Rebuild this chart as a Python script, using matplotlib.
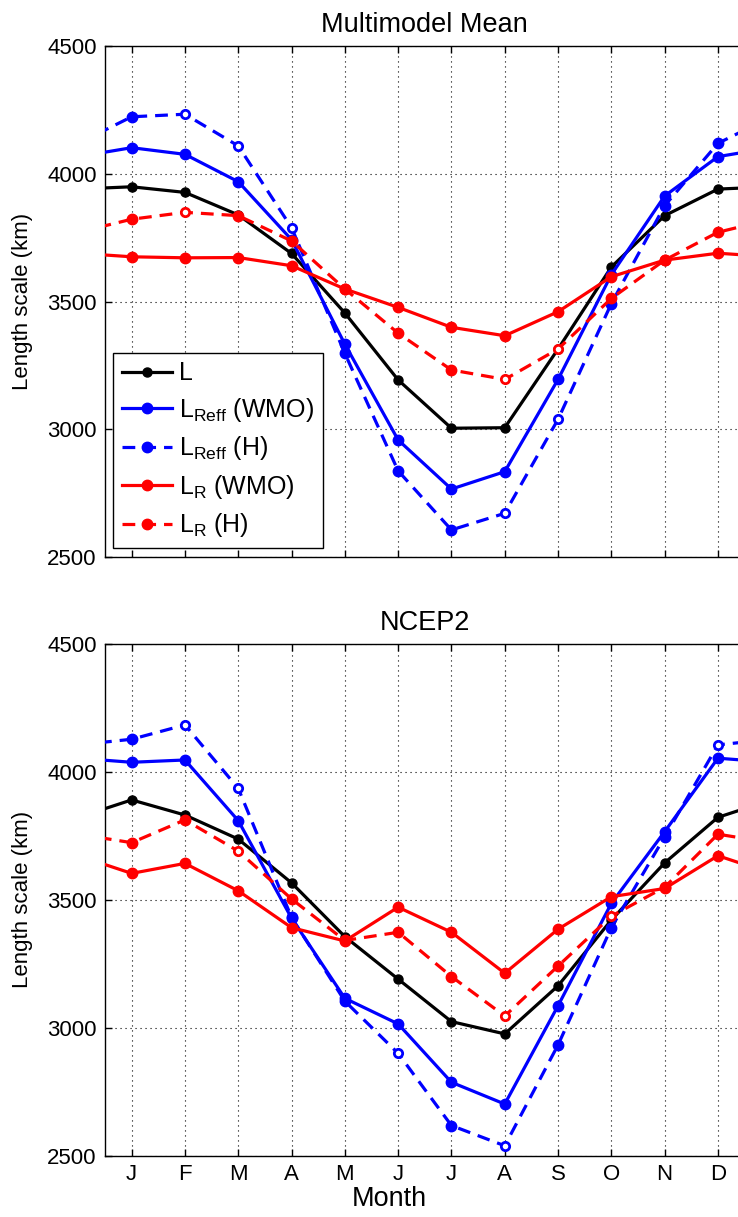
import matplotlib
matplotlib.use("Agg")
import matplotlib.pyplot as plt
from matplotlib.lines import Line2D
import numpy as np

plt.rcParams['font.family'] = ['Liberation Sans', 'DejaVu Sans']
plt.rcParams['mathtext.fontset'] = 'custom'
plt.rcParams['mathtext.rm'] = 'Liberation Sans'
plt.rcParams['mathtext.it'] = 'Liberation Sans'

months = ['J', 'F', 'M', 'A', 'M', 'J', 'J', 'A', 'S', 'O', 'N', 'D']
month_idx = np.arange(1, 13)

# ---- Multimodel Mean ----
mm_L = [3949, 3927, 3839, 3688, 3455, 3193, 3004, 3006, 3314, 3635, 3836, 3940]
mm_Reff_WMO = [4102, 4076, 3969, 3742, 3333, 2958, 2766, 2834, 3195, 3605, 3913, 4067]
mm_Reff_H = [4223, 4233, 4109, 3789, 3297, 2837, 2606, 2671, 3039, 3492, 3875, 4119]
mm_R_WMO = [3675, 3671, 3672, 3640, 3549, 3477, 3399, 3366, 3460, 3597, 3662, 3689]
mm_R_H = [3822, 3849, 3836, 3737, 3549, 3376, 3232, 3195, 3314, 3512, 3662, 3771]
mm_Reff_H_filled = [1, 0, 0, 0, 1, 1, 1, 0, 0, 1, 1, 1]
mm_R_H_filled = [1, 0, 1, 1, 1, 1, 1, 0, 0, 1, 1, 1]

# ---- NCEP2 ----
nc_L = [3889, 3830, 3736, 3565, 3355, 3189, 3023, 2975, 3163, 3420, 3643, 3821]
nc_Reff_WMO = [4036, 4045, 3808, 3427, 3114, 3014, 2786, 2701, 3085, 3485, 3765, 4052]
nc_Reff_H = [4126, 4182, 3934, 3430, 3103, 2899, 2617, 2538, 2932, 3390, 3745, 4104]
nc_R_WMO = [3602, 3641, 3534, 3390, 3338, 3470, 3372, 3212, 3384, 3511, 3543, 3671]
nc_R_H = [3722, 3811, 3689, 3502, 3340, 3372, 3199, 3045, 3240, 3435, 3548, 3755]
nc_Reff_H_filled = [1, 0, 0, 1, 1, 0, 1, 0, 1, 1, 1, 0]
nc_R_H_filled = [1, 1, 0, 1, 1, 1, 1, 0, 1, 0, 1, 1]

labels = [r'L', r'L$_{\mathrm{Reff}}$ (WMO)', r'L$_{\mathrm{Reff}}$ (H)',
          r'L$_{\mathrm{R}}$ (WMO)', r'L$_{\mathrm{R}}$ (H)']
colors = ['black', '#0000ff', '#0000ff', '#ff0000', '#ff0000']
styles = ['-', '-', '--', '-', '--']

W, H = 738, 1217
fig = plt.figure(figsize=(W / 100, H / 100), dpi=100)

ax_left = 105 / W
ax_w = (744.6 - 105) / W
ax1 = fig.add_axes([ax_left, 1 - 557 / H, ax_w, 511 / H])
ax2 = fig.add_axes([ax_left, 1 - 1155.5 / H, ax_w, 512 / H])


def draw_panel(ax, series, filled_flags, title):
    for i, vals in enumerate(series):
        vals = np.asarray(vals, dtype=float)
        xs = np.concatenate([[0], month_idx, [13]])
        ys = np.concatenate([[vals[-1]], vals, [vals[0]]])
        col = colors[i]
        lw = 2.3
        ms = 6.5 if i == 0 else 7.5
        ax.plot(xs, ys, linestyle=styles[i], color=col, linewidth=lw,
                dashes=(4, 2.5) if styles[i] == '--' else (None, None),
                zorder=2 + i)
        fl = filled_flags[i]
        if fl is None:
            fl = [1] * 12
        fl = np.asarray(fl, dtype=bool)
        ax.plot(month_idx[fl], vals[fl], linestyle='none', marker='o',
                markersize=ms, color=col, markeredgecolor=col, zorder=2 + i)
        if (~fl).any():
            ax.plot(month_idx[~fl], vals[~fl], linestyle='none', marker='o',
                    markersize=6, markerfacecolor='white',
                    markeredgecolor=col, markeredgewidth=2.0, zorder=2 + i)
    ax.set_xlim(0.5, 12.5)
    ax.set_ylim(2500, 4500)
    ax.set_yticks([2500, 3000, 3500, 4000, 4500])
    ax.set_xticks(month_idx)
    ax.grid(True, linestyle=(0, (1, 3.5)), color='black', linewidth=0.8)
    ax.tick_params(direction='in', length=5, width=1, top=True, right=True,
                   labelsize=16, pad=6)
    ax.set_ylabel('Length scale (km)', fontsize=16, labelpad=10)
    ax.set_title(title, fontsize=19.5, pad=10)
    for s in ax.spines.values():
        s.set_linewidth(1.0)


draw_panel(ax1, [mm_L, mm_Reff_WMO, mm_Reff_H, mm_R_WMO, mm_R_H],
           [None, None, mm_Reff_H_filled, None, mm_R_H_filled],
           'Multimodel Mean')
draw_panel(ax2, [nc_L, nc_Reff_WMO, nc_Reff_H, nc_R_WMO, nc_R_H],
           [None, None, nc_Reff_H_filled, None, nc_R_H_filled],
           'NCEP2')

ax1.set_xticklabels([])
ax2.set_xticklabels(months)
ax2.set_xlabel('Month', fontsize=19.5, va='center')
ax2.xaxis.set_label_coords((389 - 105) / (744.6 - 105), -(1199 - 1155.5) / 512)

handles = []
for i in range(5):
    handles.append(Line2D([0], [0], color=colors[i], linestyle=styles[i],
                          linewidth=2.3, marker='o',
                          markersize=6.5 if i == 0 else 7.5,
                          dashes=(4, 2.5) if styles[i] == '--' else (None, None)))
leg = ax1.legend(handles, labels, loc='upper left',
                 bbox_to_anchor=((113 - 105) / (744.6 - 105), (557 - 352.7) / 511),
                 fontsize=18, frameon=True, fancybox=False, framealpha=1,
                 edgecolor='black', handlelength=2.0, handletextpad=0.3,
                 labelspacing=0.42, borderpad=0.35, borderaxespad=0)
leg.get_frame().set_linewidth(1.0)

fig.savefig('out.png', dpi=100)
